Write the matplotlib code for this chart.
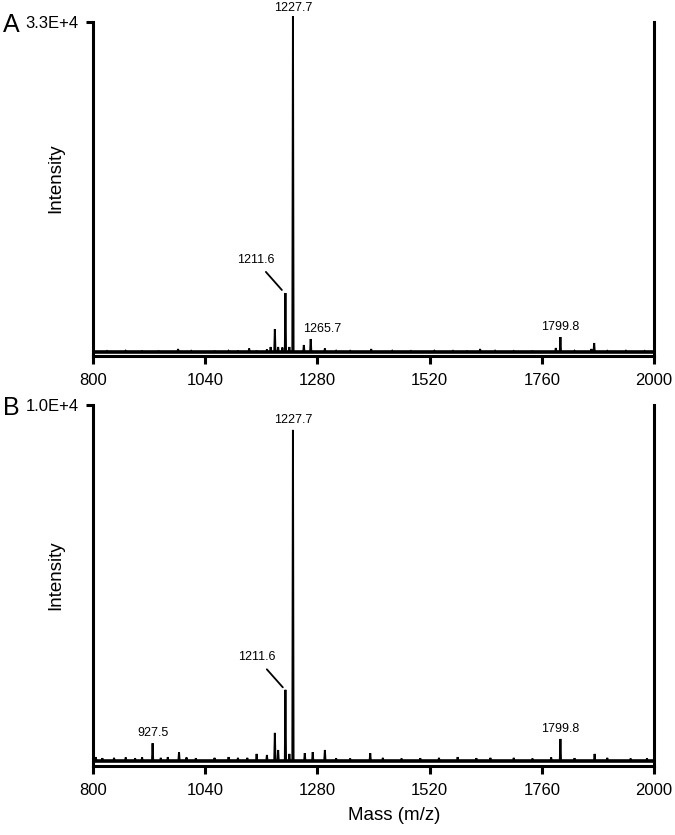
import matplotlib
matplotlib.use("Agg")
import matplotlib.pyplot as plt

plt.rcParams['font.family'] = ['Liberation Sans', 'DejaVu Sans']

# ---- data ----
x_ticks = [800, 1040, 1280, 1520, 1760, 2000]

# Panel A peaks: m/z, intensity
a_mz = [982, 1134, 1172, 1180, 1189, 1196, 1205, 1211.6, 1220, 1227.7, 1251, 1265.7,
        1296, 1395, 1628, 1790, 1799.8, 1866, 1872]
a_int = [300, 350, 250, 500, 2300, 500, 450, 5900, 500, 33600, 700, 1300,
         350, 300, 300, 400, 1500, 300, 900]
# Panel A small baseline noise spikes
a_noise_mz = [830, 870, 905, 940, 1010, 1060, 1090, 1110, 1150, 1320, 1350, 1440,
              1480, 1530, 1570, 1600, 1660, 1700, 1740, 1830, 1900, 1940, 1980]
a_noise_int = [80, 100, 70, 120, 90, 110, 100, 140, 120, 100, 90, 100,
               80, 100, 90, 110, 100, 80, 110, 100, 90, 100, 80]
a_ymax = 33000
a_top = "3.3E+4"

# Panel B peaks
b_mz = [927.5, 984, 1150, 1172, 1189, 1196, 1211.6, 1220, 1227.7, 1253, 1270,
        1296, 1393, 1799.8, 1873]
b_int = [500, 250, 200, 170, 790, 310, 2000, 200, 9300, 220, 250,
         310, 220, 620, 200]
b_noise_mz = [806, 820, 845, 870, 890, 905, 945, 960, 1000, 1020, 1060, 1090, 1110,
              1130, 1320, 1350, 1420, 1460, 1500, 1540, 1580, 1620, 1650, 1700,
              1740, 1780, 1830, 1900, 1950, 1985]
b_noise_int = [110, 80, 90, 100, 80, 100, 90, 110, 100, 80, 90, 110, 90,
               90, 80, 70, 90, 70, 80, 90, 110, 80, 90, 90,
               70, 100, 80, 90, 70, 80]
b_ymax = 10000
b_top = "1.0E+4"


def spectrum(mz, inten, nmz, nint, hw=1.3):
    pts = [(m, h) for m, h in zip(mz, inten)] + [(m, h) for m, h in zip(nmz, nint)]
    pts.sort()
    xs, ys = [800], [0]
    for m, h in pts:
        xs += [m - hw, m, m + hw]
        ys += [0, h, 0]
    xs.append(2000)
    ys.append(0)
    return xs, ys


fig = plt.figure(figsize=(6.75, 8.35), dpi=100)
W, H = 675, 835


def make_ax(top_px, bottom_px):
    return fig.add_axes([93 / W, 1 - bottom_px / H, 561 / W, (bottom_px - top_px) / H])


def style(ax, ymax, ylow, toplabel):
    ax.set_xlim(800, 2000)
    ax.set_ylim(ylow, ymax)
    ax.spines['top'].set_visible(False)
    for s in ['left', 'right', 'bottom']:
        ax.spines[s].set_linewidth(2.2)
    ax.set_xticks(x_ticks)
    ax.set_xticklabels([str(t) for t in x_ticks], fontsize=12)
    ax.set_yticks([ymax])
    ax.set_yticklabels([toplabel], fontsize=12)
    ax.tick_params(axis='x', direction='out', length=5.5, width=2.2, pad=6.5)
    ax.tick_params(axis='y', direction='out', length=5, width=2.2, pad=5.5)
    ax.tick_params(axis='y', which='both', right=False)


def hof(mz, inten, m):
    return inten[mz.index(m)]


LBL = 9

# ---- Panel A ----
axA = make_ax(22, 356)
xs, ys = spectrum(a_mz, a_int, a_noise_mz, a_noise_int)
axA.plot(xs, ys, color='black', lw=1.4, clip_on=False, solid_joinstyle='miter')
axA.plot([800, 2000], [0, 0], color='black', lw=2.6)
style(axA, a_ymax, -400, a_top)

axA.annotate("1227.7", xy=(1227.7, hof(a_mz, a_int, 1227.7)), xytext=(0, 1.5),
             textcoords='offset points', ha='center', va='bottom', fontsize=LBL,
             annotation_clip=False)
axA.annotate("1211.6", xy=(1204, 6200), xytext=(1149, 9200),
             textcoords='data', ha='center', va='center', fontsize=LBL,
             arrowprops=dict(arrowstyle='-', color='black', lw=1.3, shrinkA=3, shrinkB=0,
                             relpos=(0.62, 0)))
axA.annotate("1265.7", xy=(1265.7, hof(a_mz, a_int, 1265.7)), xytext=(8, 3),
             textcoords='offset points', ha='center', va='bottom', fontsize=LBL)
axA.annotate("1799.8", xy=(1799.8, hof(a_mz, a_int, 1799.8)), xytext=(0, 3),
             textcoords='offset points', ha='center', va='bottom', fontsize=LBL)

# ---- Panel B ----
axB = make_ax(405, 766)
xs, ys = spectrum(b_mz, b_int, b_noise_mz, b_noise_int)
axB.plot(xs, ys, color='black', lw=1.4, clip_on=False, solid_joinstyle='miter')
axB.plot([800, 2000], [0, 0], color='black', lw=2.6)
style(axB, b_ymax, -140, b_top)

axB.annotate("1227.7", xy=(1227.7, hof(b_mz, b_int, 1227.7)), xytext=(0, 3),
             textcoords='offset points', ha='center', va='bottom', fontsize=LBL,
             annotation_clip=False)
axB.annotate("1211.6", xy=(1206, 2070), xytext=(1151, 2910),
             textcoords='data', ha='center', va='center', fontsize=LBL,
             arrowprops=dict(arrowstyle='-', color='black', lw=1.3, shrinkA=3, shrinkB=0,
                             relpos=(0.62, 0)))
axB.annotate("927.5", xy=(927.5, hof(b_mz, b_int, 927.5)), xytext=(0, 3),
             textcoords='offset points', ha='center', va='bottom', fontsize=LBL)
axB.annotate("1799.8", xy=(1799.8, hof(b_mz, b_int, 1799.8)), xytext=(0, 3),
             textcoords='offset points', ha='center', va='bottom', fontsize=LBL)

# ---- labels ----
fig.text(11 / W, 1 - 25 / H, "A", fontsize=18, ha='center', va='center')
fig.text(11 / W, 1 - 408 / H, "B", fontsize=18, ha='center', va='center')
fig.text(56 / W, 1 - 178 / H, "Intensity", rotation=90, fontsize=13.5, ha='center', va='center')
fig.text(56 / W, 1 - 575 / H, "Intensity", rotation=90, fontsize=13.5, ha='center', va='center')
fig.text(394 / W, 1 - 815 / H, "Mass (m/z)", fontsize=13.5, ha='center', va='center')

fig.savefig("out.png", dpi=100)
